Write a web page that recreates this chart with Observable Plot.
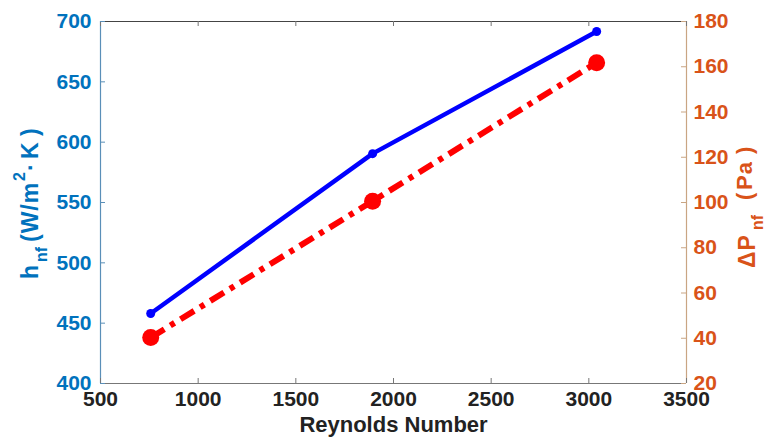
<!DOCTYPE html>
<html>
<head>
<meta charset="utf-8">
<script src="https://cdn.jsdelivr.net/npm/d3@7"></script>
<script src="https://cdn.jsdelivr.net/npm/@observablehq/plot@0.6"></script>
<style>
  html, body { margin: 0; padding: 0; background: #fff; }
  #chart svg { display: block; }
</style>
</head>
<body>
<div id="chart"></div>
<script>
// ---- data ----
const reynolds = [757, 1893, 3040];
const hnf = [458, 590.5, 691.7];
const deltaP = [40.3, 100.6, 161.8];
const xTicks = [500, 1000, 1500, 2000, 2500, 3000, 3500];
const leftTicks = [400, 450, 500, 550, 600, 650, 700];
const rightTicks = [20, 40, 60, 80, 100, 120, 140, 160, 180];
const leftDomain = [400, 700];
const rightDomain = [20, 180];

const W = 766, H = 444;
const mL = 100, mR = 80, mT = 21, mB = 61;
const plotW = W - mL - mR, plotH = H - mT - mB;
const tickLen = 5;

// map right-axis values onto the left scale
const toLeft = v => leftDomain[0] + (v - rightDomain[0]) * (leftDomain[1] - leftDomain[0]) / (rightDomain[1] - rightDomain[0]);
const fromLeft = v => rightDomain[0] + (v - leftDomain[0]) * (rightDomain[1] - rightDomain[0]) / (leftDomain[1] - leftDomain[0]);

const data = reynolds.map((r, i) => ({re: r, h: hnf[i], dp: deltaP[i]}));

const BLUE_AX = "#0072BD", ORANGE_AX = "#D95319";
const font = "'Liberation Sans', Arial, Helvetica, sans-serif";
const fs = 21;

const chart = Plot.plot({
  width: W, height: H,
  marginLeft: mL, marginRight: mR, marginTop: mT, marginBottom: mB,
  style: {fontFamily: font, background: "#fff"},
  x: {domain: [500, 3500]},
  y: {domain: leftDomain},
  marks: [
    // box / axis lines
    Plot.ruleY([leftDomain[1]], {stroke: "#444", strokeWidth: 1}),
    Plot.ruleY([leftDomain[0]], {stroke: "#777", strokeWidth: 1.2}),
    Plot.ruleX([500], {stroke: "#5a8fb8", strokeWidth: 1.2}),
    Plot.ruleX([3500], {stroke: "#c9a583", strokeWidth: 1.2}),
    // inward ticks
    Plot.tickX(xTicks, {x: d => d, insetTop: plotH - tickLen, stroke: "#777"}),
    Plot.tickX(xTicks, {x: d => d, insetBottom: plotH - tickLen, stroke: "#777"}),
    Plot.tickY(leftTicks, {y: d => d, insetRight: plotW - tickLen, stroke: "#5a8fb8"}),
    Plot.tickY(rightTicks.map(toLeft), {y: d => d, insetLeft: plotW - tickLen, stroke: "#c9a583"}),
    // tick labels
    Plot.axisX(xTicks, {tickSize: 0, tickPadding: 8, fontSize: fs, fontWeight: "bold", fill: "#222", label: null,
      tickFormat: d => String(d)}),
    Plot.axisY(leftTicks, {anchor: "left", tickSize: 0, tickPadding: 9, fontSize: fs, fontWeight: "bold", fill: BLUE_AX, label: null}),
    Plot.axisY(rightTicks.map(toLeft), {anchor: "right", tickSize: 0, tickPadding: 7, fontSize: fs, fontWeight: "bold", fill: ORANGE_AX, label: null,
      tickFormat: d => String(Math.round(fromLeft(d)))}),
    // series
    Plot.line(data, {x: "re", y: "h", stroke: "#0000ff", strokeWidth: 4.5}),
    Plot.dot(data, {x: "re", y: "h", r: 4.5, fill: "#0000ff", stroke: "none"}),
    Plot.line(data, {x: "re", y: d => toLeft(d.dp), stroke: "#ff0000", strokeWidth: 6, strokeDasharray: "16,7,5,7", strokeLinecap: "butt"}),
    Plot.dot(data, {x: "re", y: d => toLeft(d.dp), r: 8.5, fill: "#ff0000", stroke: "none"}),
    // x label
    Plot.text(["Reynolds Number"], {frameAnchor: "bottom", dy: 48, fontSize: 22, fontWeight: "bold", fill: "#222"})
  ]
});

const svg = d3.select(chart);
function piece(t, str, x, y, size, extra) {
  const s = t.append("tspan").attr("x", x).attr("y", y).attr("font-size", size).text(str);
  if (extra) s.attr("letter-spacing", extra);
  return s;
}
// left y label: h_nf (W/m^2·K )
const lt = svg.append("text")
  .attr("transform", "translate(38,279) rotate(-90)")
  .attr("text-anchor", "start")
  .attr("font-family", font).attr("font-weight", "bold")
  .attr("fill", BLUE_AX);
piece(lt, "h", 0, 0, 23);
piece(lt, "nf", 17, 9, 16);
piece(lt, "(W/m", 37, 0, 23, 1);
piece(lt, "2", 98, -13, 16);
piece(lt, "·", 108, 0, 23);
piece(lt, "K", 120, 0, 23);
piece(lt, ")", 143, 0, 23);

// right y label: ΔP_nf (Pa )
const rt = svg.append("text")
  .attr("transform", "translate(755,270) rotate(-90)")
  .attr("text-anchor", "start")
  .attr("font-family", font).attr("font-weight", "bold")
  .attr("fill", ORANGE_AX);
piece(rt, "ΔP", 2, 0, 23, 1);
piece(rt, "nf", 40, 8, 16);
piece(rt, "(", 70, -3, 22);
piece(rt, "Pa", 80, -3, 22, 1);
piece(rt, ")", 116, -3, 22);

document.getElementById("chart").appendChild(chart);
</script>
</body>
</html>
